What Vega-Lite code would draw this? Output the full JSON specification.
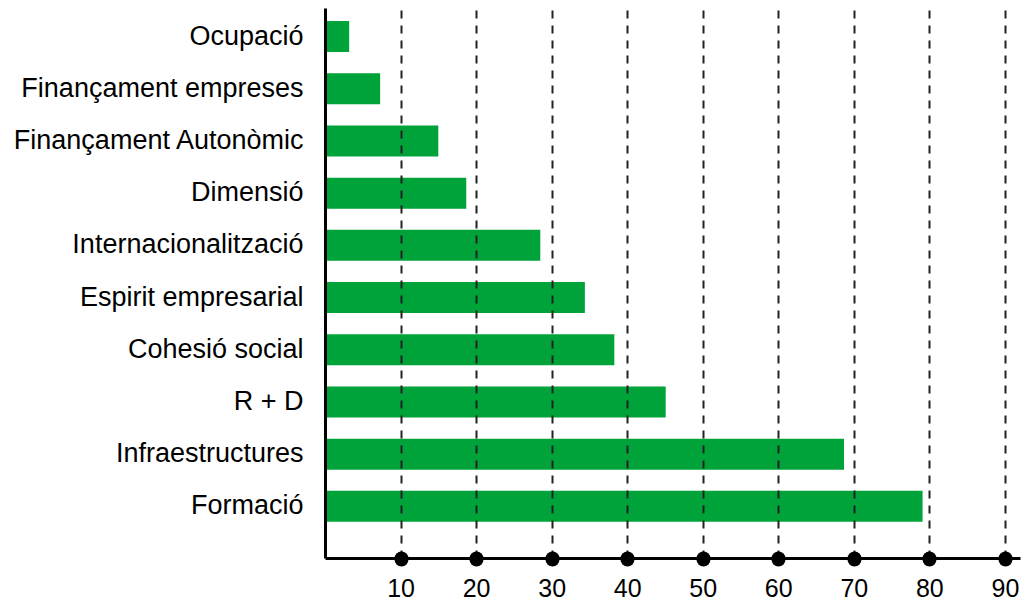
{
  "$schema": "https://vega.github.io/schema/vega-lite/v6.json",
  "autosize": "none",
  "padding": {"left": 325, "top": 8, "right": 15, "bottom": 42},
  "width": 695,
  "height": 550,
  "background": "white",
  "config": {
    "view": {"stroke": null},
    "font": "Liberation Sans"
  },
  "data": {
    "values": [
      {"categoria": "Ocupació", "valor": 3.2},
      {"categoria": "Finançament empreses", "valor": 7.3},
      {"categoria": "Finançament Autonòmic", "valor": 15.0},
      {"categoria": "Dimensió", "valor": 18.7},
      {"categoria": "Internacionalització", "valor": 28.5},
      {"categoria": "Espirit empresarial", "valor": 34.4},
      {"categoria": "Cohesió social", "valor": 38.3},
      {"categoria": "R + D", "valor": 45.1},
      {"categoria": "Infraestructures", "valor": 68.7},
      {"categoria": "Formació", "valor": 79.1}
    ]
  },
  "mark": {"type": "bar", "color": "#00a23a"},
  "encoding": {
    "y": {
      "field": "categoria",
      "type": "nominal",
      "sort": null,
      "scale": {"paddingInner": 0.406, "paddingOuter": 0.471, "align": 0.265},
      "axis": {
        "title": null,
        "ticks": false,
        "grid": false,
        "domain": true,
        "domainColor": "#000000",
        "domainWidth": 3,
        "labelFontSize": 27,
        "labelColor": "#000000",
        "labelPadding": 22,
        "labelLimit": 0,
        "labelFont": "Liberation Sans",
        "zindex": 1
      }
    },
    "x": {
      "field": "valor",
      "type": "quantitative",
      "scale": {"domain": [0, 92], "nice": false, "zero": true},
      "axis": {
        "title": null,
        "values": [10, 20, 30, 40, 50, 60, 70, 80, 90],
        "grid": true,
        "gridDash": [8, 7],
        "gridColor": "#222222",
        "gridWidth": 2,
        "domain": true,
        "domainColor": "#000000",
        "domainWidth": 3,
        "ticks": true,
        "tickSize": 1,
        "tickWidth": 14,
        "tickCap": "round",
        "tickColor": "#000000",
        "labelFontSize": 25,
        "labelColor": "#000000",
        "labelPadding": 17,
        "labelFont": "Liberation Sans",
        "zindex": 1
      }
    }
  }
}
